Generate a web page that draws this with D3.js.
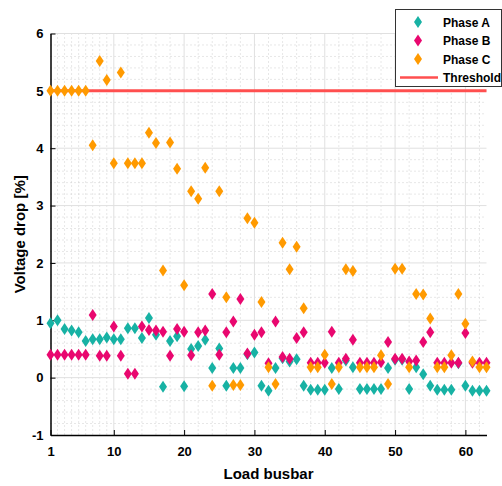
<!DOCTYPE html>
<html>
<head>
<meta charset="utf-8">
<script src="https://cdn.jsdelivr.net/npm/d3@7"></script>
<style>
  body { margin: 0; background: #fff; }
  svg text { font-family: "Liberation Sans", Arial, sans-serif; font-weight: bold; }
</style>
</head>
<body>
<script>
// ---- data ----
const busbars = d3.range(1, 64);

const phaseA = [0.95, 1.00, 0.85, 0.82, 0.79, 0.64, 0.67, 0.67, 0.70, 0.67,
                0.67, 0.86, 0.86, 0.69, 1.04, 0.75, -0.16, 0.64, 0.72, -0.15,
                0.50, 0.55, 0.66, 0.17, 0.51, -0.14, 0.17, 0.17, 0.41, 0.44,
                -0.14, -0.23, 0.17, 0.34, 0.28, 0.32, -0.14, -0.21, -0.21, -0.21,
                0.17, -0.20, 0.30, 0.18, -0.20, -0.20, -0.20, -0.20, 0.17, 0.31,
                0.31, -0.20, 0.18, 0.06, -0.14, -0.21, -0.21, -0.21, 0.25, -0.14,
                -0.23, -0.23, -0.23];

const phaseB = [0.40, 0.40, 0.40, 0.40, 0.40, 0.40, 1.09, 0.38, 0.38, 0.89,
                0.38, 0.07, 0.07, 0.89, 0.83, 0.82, 0.80, 0.38, 0.85, 0.80,
                0.39, 0.79, 0.82, 1.46, 0.40, 0.79, 0.98, 1.37, 0.42, 0.75,
                0.79, 0.25, 0.98, 0.36, 0.33, 0.69, 0.79, 0.26, 0.26, 0.26,
                0.80, 0.26, 0.33, 0.66, 0.26, 0.26, 0.26, 0.27, 0.62, 0.33,
                0.33, 0.28, 0.30, 0.62, 0.79, 0.26, 0.26, 0.26, 0.26, 0.78,
                0.26, 0.26, 0.26];

const phaseC = [5.00, 5.00, 5.00, 5.00, 5.00, 5.00, 4.05, 5.52, 5.19, 3.74,
                5.32, 3.74, 3.74, 3.74, 4.27, 4.09, 1.87, 4.10, 3.64, 1.61,
                3.25, 3.12, 3.66, -0.14, 3.25, 1.40, -0.13, -0.13, 2.78, 2.70,
                1.32, 0.18, -0.11, 2.35, 1.89, 2.28, 1.21, 0.18, 0.18, 0.40,
                -0.11, 0.18, 1.89, 1.86, 0.18, 0.18, 0.18, 0.39, -0.11, 1.90,
                1.90, 0.18, 1.46, 1.45, 1.03, 0.18, 0.18, 0.39, 1.46, 0.94,
                0.28, 0.18, 0.18];

const threshold = 5;

const xTicks = [1, 10, 20, 30, 40, 50, 60];
const xMinor = [2, 3, 4, 5, 6, 7, 8, 9].concat(d3.range(12, 63, 2).filter(d => d % 10 !== 0));
const yTicks = [-1, 0, 1, 2, 3, 4, 5, 6];
const yMinor = d3.range(-0.8, 6, 0.2).filter(d => Math.abs(d - Math.round(d)) > 0.01);

const series = [
  { name: 'Phase A', values: phaseA, color: '#17b2a4' },
  { name: 'Phase B', values: phaseB, color: '#e9076f' },
  { name: 'Phase C', values: phaseC, color: '#ff9a00' }
];
const thresholdColor = '#ff4f4f';

// ---- layout ----
const W = 502, H = 486;
const plot = { left: 50.5, right: 486.5, top: 33.5, bottom: 435 };

const x = d3.scaleLinear().domain([1, 63]).range([plot.left, plot.right]);
const y = d3.scaleLinear().domain([-1, 6]).range([plot.bottom, plot.top]);

const svg = d3.select('body').append('svg')
  .attr('width', W).attr('height', H);

// grid: minor dotted, major solid
const grid = svg.append('g');
grid.selectAll('.xmin').data(xMinor).join('line')
  .attr('x1', d => x(d)).attr('x2', d => x(d)).attr('y1', plot.top).attr('y2', plot.bottom)
  .attr('stroke', '#cfcfcf').attr('stroke-dasharray', '1,3');
grid.selectAll('.ymin').data(yMinor).join('line')
  .attr('x1', plot.left).attr('x2', plot.right).attr('y1', d => y(d)).attr('y2', d => y(d))
  .attr('stroke', '#cfcfcf').attr('stroke-dasharray', '1,3');
grid.selectAll('.xmaj').data(xTicks.slice(1)).join('line')
  .attr('x1', d => x(d)).attr('x2', d => x(d)).attr('y1', plot.top).attr('y2', plot.bottom)
  .attr('stroke', '#e0e0e0');
grid.selectAll('.ymaj').data(yTicks.slice(1)).join('line')
  .attr('x1', plot.left).attr('x2', plot.right).attr('y1', d => y(d)).attr('y2', d => y(d))
  .attr('stroke', '#e0e0e0');

// axes with inward ticks
const xAxis = svg.append('g').attr('transform', `translate(0,${plot.bottom})`)
  .call(d3.axisBottom(x).tickValues(xTicks).tickFormat(String)
    .tickSizeInner(-5).tickSizeOuter(0).tickPadding(12));
const yAxis = svg.append('g').attr('transform', `translate(${plot.left},0)`)
  .call(d3.axisLeft(y).tickValues(yTicks).tickFormat(String)
    .tickSizeInner(-5).tickSizeOuter(0).tickPadding(7));
[xAxis, yAxis].forEach(a => {
  a.select('.domain').attr('stroke', '#000').attr('stroke-width', 1.5);
  a.selectAll('.tick line').attr('stroke', '#000');
  a.selectAll('.tick text').attr('font-size', 13).attr('fill', '#000')
    .attr('font-family', '"Liberation Sans", Arial, sans-serif');
});

// threshold line
svg.append('line')
  .attr('x1', x(1)).attr('x2', x(63)).attr('y1', y(threshold)).attr('y2', y(threshold))
  .attr('stroke', thresholdColor).attr('stroke-width', 3);

// diamond markers
const diamond = 'M0,-6L4,0L0,6L-4,0Z';
series.forEach(s => {
  svg.append('g').selectAll('path').data(busbars).join('path')
    .attr('d', diamond)
    .attr('transform', (d, i) => `translate(${x(d)},${y(s.values[i])})`)
    .attr('fill', s.color);
});

// axis titles
svg.append('text')
  .attr('x', (plot.left + plot.right) / 2).attr('y', 479)
  .attr('text-anchor', 'middle').attr('font-size', 15)
  .text('Load busbar');
svg.append('text')
  .attr('transform', `translate(25,${(plot.top + plot.bottom) / 2}) rotate(-90)`)
  .attr('text-anchor', 'middle').attr('font-size', 15)
  .text('Voltage drop [%]');

// legend
const legend = svg.append('g');
legend.append('rect')
  .attr('x', 395.5).attr('y', 9.5).attr('width', 106).attr('height', 77)
  .attr('fill', '#fff').attr('stroke', '#333');
const entries = series.map(s => ({ name: s.name, color: s.color, type: 'marker' }))
  .concat([{ name: 'Threshold', color: thresholdColor, type: 'line' }]);
const row = legend.selectAll('g').data(entries).join('g')
  .attr('transform', (d, i) => `translate(0,${22 + i * 18.5})`);
row.filter(d => d.type === 'marker').append('path')
  .attr('d', diamond).attr('transform', 'translate(418,0)')
  .attr('fill', d => d.color);
row.filter(d => d.type === 'line').append('line')
  .attr('x1', 400).attr('x2', 438).attr('stroke', d => d.color).attr('stroke-width', 2.5);
row.append('text')
  .attr('x', 443).attr('y', 4.5).attr('font-size', 12)
  .text(d => d.name);
</script>
</body>
</html>
